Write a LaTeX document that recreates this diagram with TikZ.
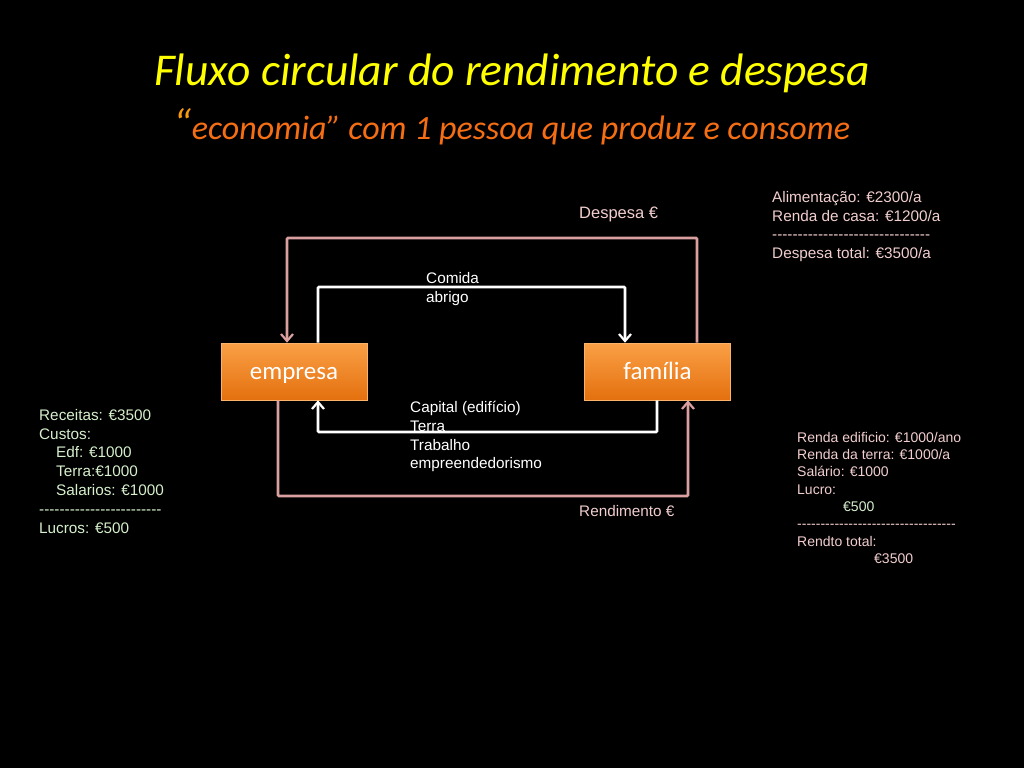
\documentclass[tikz,border=0pt]{standalone}
\usepackage{fontspec}
\setmainfont{Liberation Sans}
\newfontfamily\calib{Carlito}
\usetikzlibrary{arrows.meta,positioning}
\definecolor{pinkline}{RGB}{218,160,160}
\definecolor{pinktext}{RGB}{242,206,206}
\definecolor{greentext}{RGB}{214,240,204}
\definecolor{titleyellow}{RGB}{255,255,0}
\definecolor{suborange}{RGB}{245,110,20}
\definecolor{boxtop}{RGB}{250,160,70}
\definecolor{boxbot}{RGB}{228,112,14}
\newcommand\dashrow[1]{\foreach \k in {1,...,#1}{-\kern0pt}}
\tikzset{
  box/.style={draw=boxtop!80!white, line width=0.6pt, top color=boxtop, bottom color=boxbot,
    minimum width=146pt, minimum height=57pt, inner sep=0pt, text=white,
    text height=18pt, text depth=3pt,
    font=\calib\fontsize{25}{28}\selectfont},
  pinkflow/.style={draw=pinkline, line width=2.6pt, rounded corners=1pt},
  whiteflow/.style={draw=white, line width=2.6pt, rounded corners=1pt},
  tip/.style={-{Straight Barb[length=7pt,width=12pt,line width=2.2pt]}},
  txt/.style={anchor=north west, align=left, inner sep=0pt, font=\fontsize{15.3}{18.8}\selectfont},
}
\begin{document}
\begin{tikzpicture}[x=1pt,y=-1pt]
\useasboundingbox[fill=black] (0,0) rectangle (1024,768);
% titles
\node[font=\calib\itshape\fontsize{45.5}{50}\selectfont, text=titleyellow] (title) at (512,73) {Fluxo circular do rendimento e despesa};
\node[font=\calib\itshape\fontsize{34}{37}\selectfont, text=suborange] (sub) at (512,127) {{\fontsize{43}{45}\selectfont\color{suborange!70!titleyellow}“}economia” com 1 pessoa que produz e consome};
% boxes
\node[box] (emp) at (294,371.5) {empresa};
\node[box] (fam) at (657.5,371.5) {família};
% coordinates
\coordinate (p1) at (697,238);
\coordinate (p2) at (287,238);
\coordinate (w1) at (318,287);
\coordinate (w2) at (625,287);
\coordinate (b1) at (657,432);
\coordinate (b2) at (318,432);
\coordinate (r1) at (278,496);
\coordinate (r2) at (688,496);
% flows
\draw[pinkflow,tip] (fam.north -| p1) |- (p2) -- (emp.north -| p2);
\draw[whiteflow,tip] (emp.north -| w1) |- (w2) -- (fam.north -| w2);
\draw[whiteflow,tip] (fam.south -| b1) |- (b2) -- (emp.south -| b2);
\draw[pinkflow,tip] (emp.south -| r1) |- (r2) -- (fam.south -| r2);
% labels
\node[txt, text=pinktext, font=\fontsize{16.5}{19}\selectfont] (desp) at (579,207) {Despesa €};
\node[txt, text=pinktext] (rend) at (579,505) {Rendimento €};
\node[txt, text=white] (comida) at (426,272) {Comida\\abrigo};
\node[txt, text=white] (capital) at (410,401) {Capital (edifício)\\Terra\\Trabalho\\empreendedorismo};
% side blocks
\node[txt, text=pinktext] (topright) at (772,191) {Alimentação: €2300/a\\Renda de casa: €1200/a\\\dashrow{31}\\Despesa total: €3500/a};
\node[txt, text=greentext] (left) at (39,409) {Receitas: €3500\\Custos:\\\hspace*{17pt}Edf: €1000\\\hspace*{17pt}Terra:€1000\\\hspace*{17pt}Salarios: €1000\\\dashrow{24}\\Lucros: €500};
\node[txt, text=pinktext, font=\fontsize{14}{17.3}\selectfont] (rightbot) at (797,432) {Renda edificio: €1000/ano\\Renda da terra: €1000/a\\Salário: €1000\\Lucro:\\\hspace*{46pt}{\color{greentext}€500}\\\dashrow{34}\\Rendto total:\\\hspace*{77pt}€3500};
\end{tikzpicture}
\end{document}
